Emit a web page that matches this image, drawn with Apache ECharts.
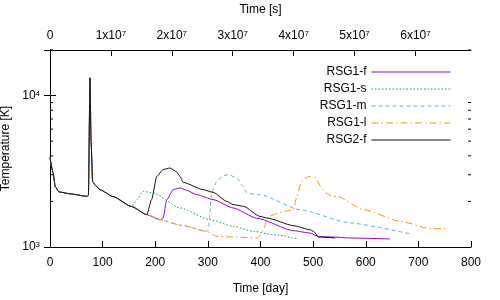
<!DOCTYPE html>
<html>
<head>
<meta charset="utf-8">
<script src="https://cdn.jsdelivr.net/npm/echarts@6/dist/echarts.min.js"></script>
<style>html,body{margin:0;padding:0;background:#fff}#c{width:500px;height:300px}</style>
</head>
<body>
<div id="c"></div>
<script>
// Shared early evolution (day, K)
const commonEarly = [[0,3900],[6,3080],[10,2500],[17,2310],[40,2240],[70,2160],[73,2200],[76,13100],[78,5000],[81,2700],[86,2560],[95,2390],[120,2150],[155,1850]];
const commonMid = [[184,1635]];
const commonLate = [[209,1515],[250,1390],[298,1268]];

const rsg1s = [[165,2050],[177,2330],[196,2275],[247,1810],[304,1515],[348,1369],[387,1268],[425,1206],[444,1188],[460,1150],[472,1130]];
const rsg2f = [[193,2055],[203,2930],[215,3250],[228,3325],[240,3150],[247,2930],[253,2673],[291,2392],[310,2296],[336,2001],[348,1904],[368,1855],[399,1593],[412,1555],[463,1383],[494,1301],[501,1268],[510,1164],[542,1147]];
const rsg1f = [[209,1515],[215,1555],[222,2055],[234,2392],[247,2455],[257,2390],[279,2217],[310,2055],[348,1810],[393,1550],[463,1281],[494,1237],[510,1175],[538,1164],[570,1147],[646,1130]];
const rsg1m = [[301,1300],[304,1700],[307,2275],[317,2715],[328,2950],[339,3005],[355,2858],[365,2550],[374,2275],[393,2217],[399,2217],[475,1764],[570,1440],[688,1212]];
const rsg1l = [[317,1175],[348,1164],[393,1147],[400,1200],[405,1301],[415,1593],[443,1719],[463,1764],[469,2160],[478,2715],[491,2930],[504,2858],[515,2500],[523,2275],[538,2160],[545,2160],[596,1764],[666,1477],[723,1321],[751,1321]];

const seriesNames = ['RSG1-f','RSG1-s','RSG1-m','RSG1-l','RSG2-f'];
const seriesColors = ['#9400d3','#009e73','#56b4e9','#e69f00','#111111'];
const yMinorTicks = [2000,3000,4000,5000,6000,7000,8000,9000,20000];
const xDayTicks = [0,800,100];
const xSecMax = 800*86400;

const fullF = commonEarly.concat(commonMid, rsg1f);
const fullS = commonEarly.concat(rsg1s);
const fullM = commonEarly.concat(commonMid, commonLate, rsg1m);
const fullL = commonEarly.concat(commonMid, commonLate, rsg1l);
const full2 = commonEarly.concat(commonMid, rsg2f);

const font = 'Liberation Sans, Arial, sans-serif';
const chart = echarts.init(document.getElementById('c'), null, {renderer:'canvas'});

function lineSeries(name, data, color, type){
  return {name, type:'line', data, xAxisIndex:0, yAxisIndex:0, showSymbol:false, symbol:'none',
    smooth:0.2, smoothMonotone:'x', color,
    lineStyle:{color, width:1, type}, itemStyle:{color, opacity:0}, animation:false, z:3};
}
const supRich = {sup:{fontSize:8, verticalAlign:'top', lineHeight:8, padding:[0,0,6,0], fontFamily:font, color:'#000'}};

const option = {
  animation:false,
  textStyle:{fontFamily:font},
  grid:{left:50, right:29, top:50, bottom:53, show:false, containLabel:false, outerBoundsMode:'none'},
  legend:{
    data:seriesNames, orient:'vertical', align:'right', right:44, top:61,
    itemWidth:79, itemHeight:11, itemGap:5,
    itemStyle:{opacity:0},
    lineStyle:{width:1},
    textStyle:{fontFamily:font, fontSize:12, color:'#000'}
  },
  xAxis:[
    {type:'value', position:'bottom', min:xDayTicks[0], max:xDayTicks[1], interval:xDayTicks[2],
     name:'Time [day]', nameLocation:'middle', nameGap:36,
     nameTextStyle:{fontSize:12, color:'#000', fontFamily:font},
     axisLine:{show:true, lineStyle:{color:'#000', width:1}},
     axisTick:{show:true, inside:true, length:6, lineStyle:{color:'#000'}},
     axisLabel:{color:'#000', fontSize:12, margin:10, fontFamily:font},
     splitLine:{show:false}},
    {type:'value', position:'top', min:0, max:xSecMax, interval:1e7,
     name:'Time [s]', nameLocation:'middle', nameGap:34,
     nameTextStyle:{fontSize:12, color:'#000', fontFamily:font},
     axisLine:{show:true, lineStyle:{color:'#000', width:1}},
     axisTick:{show:true, inside:true, length:6, lineStyle:{color:'#000'}},
     axisLabel:{color:'#000', fontSize:12, margin:8, fontFamily:font, showMaxLabel:false,
       formatter:v=> v===0 ? '0' : (Math.abs(v/1e7-Math.round(v/1e7))<1e-9 ? Math.round(v/1e7)+'x10{sup|7}' : ''),
       rich:supRich},
     splitLine:{show:false}}
  ],
  yAxis:[
    {type:'log', logBase:10, min:1000, max:20000, position:'left',
     name:'Temperature [K]', nameLocation:'middle', nameGap:30, nameRotate:90,
     nameTextStyle:{fontSize:12, color:'#000', fontFamily:font},
     axisLine:{show:true, lineStyle:{color:'#000', width:1}},
     axisTick:{show:true, inside:true, length:6, lineStyle:{color:'#000'}},
     axisLabel:{color:'#000', fontSize:12, margin:10, fontFamily:font,
       formatter:v=>{const e=Math.log10(v); return Math.abs(e-Math.round(e))<1e-6 ? '10{sup|'+Math.round(e)+'}' : '';},
       rich:supRich},
     splitLine:{show:false}},
    {type:'log', logBase:10, min:1000, max:20000, position:'right',
     axisLine:{show:true, lineStyle:{color:'#000', width:1}},
     axisTick:{show:true, inside:true, length:6, lineStyle:{color:'#000'}},
     axisLabel:{show:false}, splitLine:{show:false}}
  ],
  series:[
    lineSeries(seriesNames[0], fullF, seriesColors[0], 'solid'),
    lineSeries(seriesNames[1], fullS, seriesColors[1], [1.5,2]),
    lineSeries(seriesNames[2], fullM, seriesColors[2], [4,3]),
    lineSeries(seriesNames[3], fullL, seriesColors[3], [7,3,1.5,3]),
    lineSeries(seriesNames[4], full2, seriesColors[4], 'solid'),
    {type:'custom', name:'minorTicks', xAxisIndex:0, yAxisIndex:0, silent:true, clip:false, z:4,
     data: yMinorTicks.map(v=>[xDayTicks[0], v]),
     renderItem:(params, api)=>{
       const yv = api.value(1);
       const pl = api.coord([xDayTicks[0], yv]);
       const pr = api.coord([xDayTicks[1], yv]);
       return {type:'group', children:[
         {type:'line', shape:{x1:pl[0], y1:pl[1], x2:pl[0]+3, y2:pl[1]}, style:{stroke:'#000', lineWidth:1}},
         {type:'line', shape:{x1:pr[0]-3, y1:pr[1], x2:pr[0], y2:pr[1]}, style:{stroke:'#000', lineWidth:1}}
       ]};
     }}
  ]
};
chart.setOption(option);
</script>
</body>
</html>
